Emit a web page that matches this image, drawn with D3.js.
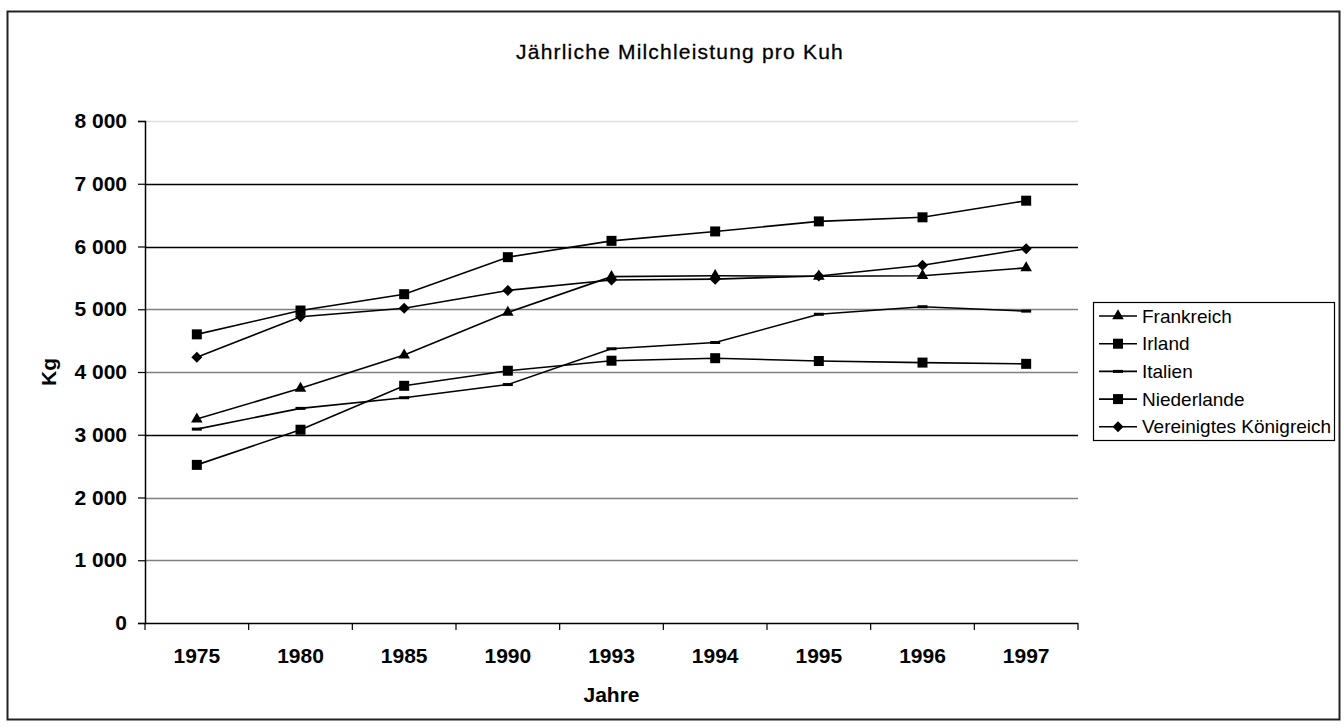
<!DOCTYPE html>
<html>
<head>
<meta charset="utf-8">
<script src="https://cdn.jsdelivr.net/npm/d3@7"></script>
<style>
  body { margin: 0; background: #fff; }
  text { font-family: "Liberation Sans", Arial, sans-serif; fill: #000; }
</style>
</head>
<body>
<script>
// Jährliche Milchleistung pro Kuh (kg)
const years = ["1975", "1980", "1985", "1990", "1993", "1994", "1995", "1996", "1997"];
const frankreich  = [3250, 3740, 4270, 4950, 5520, 5535, 5525, 5535, 5660];
const irland      = [4600, 4980, 5240, 5830, 6090, 6240, 6400, 6465, 6730];
const italien     = [3090, 3420, 3590, 3800, 4370, 4470, 4920, 5040, 4970];
const niederlande = [2520, 3080, 3780, 4020, 4180, 4220, 4175, 4150, 4130];
const vk          = [4235, 4880, 5015, 5300, 5465, 5480, 5530, 5700, 5965];
const yTicks = [0, 1000, 2000, 3000, 4000, 5000, 6000, 7000, 8000];

const series = [
  { name: "Frankreich", values: frankreich, marker: "triangle" },
  { name: "Irland", values: irland, marker: "square" },
  { name: "Italien", values: italien, marker: "dash" },
  { name: "Niederlande", values: niederlande, marker: "square" },
  { name: "Vereinigtes Königreich", values: vk, marker: "diamond" }
];

const width = 1344, height = 728;
const margin = { left: 145, right: 1078, top: 121, bottom: 623 };

// German number format: "8 000"
const de = d3.formatLocale({ decimal: ",", thousands: " ", grouping: [3], currency: ["", ""] });
const fmt = de.format(",d");

const svg = d3.select("body").append("svg")
  .attr("width", width)
  .attr("height", height);

// outer frame
svg.append("rect")
  .attr("x", 7.5).attr("y", 11.5)
  .attr("width", 1332).attr("height", 708)
  .attr("fill", "#fff")
  .attr("stroke", "#222")
  .attr("stroke-width", 2);

const x = d3.scaleBand()
  .domain(years)
  .range([margin.left, margin.right]);

const y = d3.scaleLinear()
  .domain([0, 8000])
  .range([margin.bottom, margin.top]);

// gridlines (the scaled-down original shows them in mixed shades)
const gridShade = { 1000: "#808080", 2000: "#808080", 3000: "#000", 4000: "#808080",
                    5000: "#808080", 6000: "#000", 7000: "#000", 8000: "#ddd" };
svg.append("g")
  .selectAll("line")
  .data(yTicks.filter(d => d > 0))
  .join("line")
  .attr("x1", margin.left).attr("x2", margin.right)
  .attr("y1", d => Math.round(y(d)) + 0.5).attr("y2", d => Math.round(y(d)) + 0.5)
  .attr("stroke", d => gridShade[d])
  .attr("stroke-width", 1.5);

// y axis
const yAxis = svg.append("g")
  .attr("transform", `translate(${margin.left},0)`)
  .call(d3.axisLeft(y).tickValues(yTicks).tickSize(7).tickPadding(11).tickFormat(fmt));
yAxis.select(".domain").attr("stroke", "#000").attr("stroke-width", 1.5);
yAxis.selectAll(".tick line").attr("stroke", "#000").attr("stroke-width", 1.2);
yAxis.selectAll(".tick text")
  .style("font-family", "'Liberation Sans', Arial, sans-serif")
  .style("font-size", "21px").style("font-weight", "bold").attr("fill", "#000");

// x axis line and category-boundary ticks
svg.append("line")
  .attr("x1", margin.left).attr("x2", margin.right)
  .attr("y1", margin.bottom + 0.5).attr("y2", margin.bottom + 0.5)
  .attr("stroke", "#000").attr("stroke-width", 1.5);
svg.append("g")
  .selectAll("line")
  .data(years.map(d => x(d)).concat([x.range()[1]]))
  .join("line")
  .attr("x1", d => d).attr("x2", d => d)
  .attr("y1", margin.bottom).attr("y2", margin.bottom + 7)
  .attr("stroke", "#000").attr("stroke-width", 1.2);

const xAxis = svg.append("g")
  .attr("transform", `translate(0,${margin.bottom})`)
  .call(d3.axisBottom(x).tickSize(0).tickPadding(25));
xAxis.select(".domain").remove();
xAxis.selectAll(".tick text")
  .style("font-family", "'Liberation Sans', Arial, sans-serif")
  .style("font-size", "21px").style("font-weight", "bold").attr("fill", "#000");

// titles
svg.append("text")
  .attr("x", 680).attr("y", 59)
  .attr("text-anchor", "middle")
  .style("font-size", "21px")
  .style("letter-spacing", "1.2px")
  .style("stroke", "#000").style("stroke-width", 0.3)
  .text("Jährliche Milchleistung pro Kuh");

svg.append("text")
  .attr("x", (margin.left + margin.right) / 2).attr("y", 702)
  .attr("text-anchor", "middle")
  .style("font-size", "21px").style("font-weight", "bold")
  .text("Jahre");

svg.append("text")
  .attr("transform", `translate(56,${(margin.top + margin.bottom) / 2}) rotate(-90)`)
  .attr("text-anchor", "middle")
  .style("font-size", "21px").style("font-weight", "bold")
  .text("Kg");

// markers
function drawMarker(g, type) {
  if (type === "triangle") {
    g.append("path").attr("d", d3.symbol(d3.symbolTriangle, 58)()).attr("fill", "#000");
  } else if (type === "square") {
    g.append("rect").attr("x", -5).attr("y", -5).attr("width", 10).attr("height", 10).attr("fill", "#000");
  } else if (type === "diamond") {
    g.append("path").attr("d", "M0,-5.5L5.5,0L0,5.5L-5.5,0Z").attr("fill", "#000");
  } else if (type === "dash") {
    g.append("rect").attr("x", -5).attr("y", -1.5).attr("width", 10).attr("height", 3).attr("fill", "#000");
  }
}

const line = d3.line()
  .x((d, i) => x(years[i]) + x.bandwidth() / 2)
  .y(d => y(d));

series.forEach(s => {
  svg.append("path")
    .attr("d", line(s.values))
    .attr("fill", "none")
    .attr("stroke", "#000")
    .attr("stroke-width", 1.6);
  s.values.forEach((v, i) => {
    const g = svg.append("g")
      .attr("transform", `translate(${x(years[i]) + x.bandwidth() / 2},${y(v)})`);
    drawMarker(g, s.marker);
  });
});

// legend
const legend = svg.append("g");
legend.append("rect")
  .attr("x", 1093.5).attr("y", 302.5)
  .attr("width", 241).attr("height", 138)
  .attr("fill", "#fff").attr("stroke", "#000").attr("stroke-width", 1.2);

series.forEach((s, i) => {
  const cy = 316 + i * 27.7;
  legend.append("line")
    .attr("x1", 1099).attr("x2", 1137)
    .attr("y1", cy).attr("y2", cy)
    .attr("stroke", "#000").attr("stroke-width", 1.6);
  const g = legend.append("g").attr("transform", `translate(1118,${cy})`);
  drawMarker(g, s.marker);
  legend.append("text")
    .attr("x", 1142).attr("y", cy)
    .attr("dy", "0.35em")
    .style("font-size", "19px")
    .text(s.name);
});
</script>
</body>
</html>
